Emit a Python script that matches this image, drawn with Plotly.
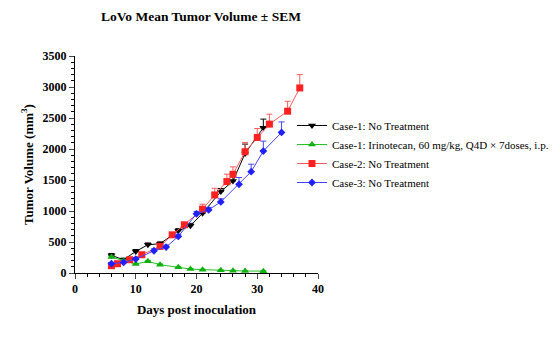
import plotly.graph_objects as go

title = "LoVo Mean Tumor Volume ± SEM"

c1_days = [6, 8, 10, 12, 14, 17, 19, 21, 24, 26, 28, 31]
c1_vol = [284, 214, 348, 455, 472, 680, 761, 965, 1313, 1484, 1929, 2342]
c1_sem = [30, 25, 30, 30, 30, 35, 40, 50, 50, 70, 150, 140]

irin_days = [6, 8, 10, 12, 14, 17, 19, 21, 24, 26, 28, 31]
irin_vol = [257, 198, 145, 188, 134, 91, 64, 54, 43, 38, 32, 30]
irin_sem = [15, 15, 12, 15, 12, 10, 8, 8, 6, 6, 5, 5]

c2_days = [6, 7, 9, 11, 14, 16, 18, 21, 23, 25, 26, 28, 30, 32, 35, 37]
c2_vol = [118, 150, 214, 295, 429, 616, 777, 1029, 1259, 1474, 1592, 1956, 2186, 2401, 2610, 2985]
c2_sem = [20, 20, 25, 30, 30, 35, 40, 80, 107, 120, 120, 150, 145, 160, 160, 215]

c3_days = [6, 8, 10, 13, 15, 17, 20, 22, 24, 27, 29, 31, 34]
c3_vol = [150, 171, 225, 359, 418, 590, 954, 1018, 1147, 1431, 1635, 1967, 2267]
c3_sem = [20, 20, 25, 30, 30, 35, 40, 40, 50, 110, 120, 160, 170]

names = ["Case-1: No Treatment",
         "Case-1: Irinotecan, 60 mg/kg, Q4D × 7doses, i.p.",
         "Case-2: No Treatment",
         "Case-3: No Treatment"]

series = [
    (c1_days, c1_vol, c1_sem, names[0], "#000000", "#000000", "triangle-down", 7),
    (irin_days, irin_vol, irin_sem, names[1], "#22c422", "#10b010", "triangle-up", 7),
    (c2_days, c2_vol, c2_sem, names[2], "#ff5a5a", "#ff2020", "square", 7),
    (c3_days, c3_vol, c3_sem, names[3], "#4444ff", "#2020ff", "diamond", 6),
]

fig = go.Figure()
for d, v, s, n, lc, mc, sym, sz in series:
    fig.add_trace(go.Scatter(
        x=d, y=v, name=n, mode="lines+markers",
        line=dict(color=lc, width=1),
        marker=dict(symbol=sym, size=sz, color=mc),
        error_y=dict(type="data", array=s, arrayminus=[0] * len(s), symmetric=False,
                     color=lc, thickness=1, width=3),
    ))

font_serif = "Liberation Serif"
fig.update_layout(
    width=554, height=342,
    margin=dict(l=75, r=236, t=56, b=69, autoexpand=False),
    paper_bgcolor="white", plot_bgcolor="white",
    font=dict(family=font_serif, color="black", size=12),
    title=dict(text=title, x=201 / 554, xanchor="center",
               y=1 - 16 / 342, yanchor="middle",
               font=dict(size=13.5, family=font_serif, weight="bold")),
    legend=dict(xref="container", yref="container", x=292 / 554, y=1 - 154 / 342,
                xanchor="left", yanchor="middle", bgcolor="rgba(0,0,0,0)",
                font=dict(size=11, family=font_serif), tracegroupgap=0, itemwidth=30),
    showlegend=True,
)
fig.update_xaxes(
    range=[0, 40], tickvals=[0, 10, 20, 30, 40], ticks="outside", ticklen=5,
    showline=True, linecolor="black", linewidth=1, showgrid=False, zeroline=False,
    tickfont=dict(size=12, family=font_serif, weight="bold"),
    minor=dict(dtick=2, ticks="outside", ticklen=3, tickcolor="black"),
    title=dict(text="Days post inoculation", font=dict(size=13, weight="bold"), standoff=9),
)
fig.update_yaxes(
    range=[0, 3500], tickvals=[0, 500, 1000, 1500, 2000, 2500, 3000, 3500], ticks="outside", ticklen=5,
    showline=True, linecolor="black", linewidth=1, showgrid=False, zeroline=False,
    tickfont=dict(size=12, family=font_serif, weight="bold"),
    minor=dict(dtick=100, ticks="outside", ticklen=3, tickcolor="black"),
    title=dict(text="Tumor Volume (mm<sup>3</sup>)", font=dict(size=13, weight="bold"), standoff=6),
)

fig.write_html("out.html")
